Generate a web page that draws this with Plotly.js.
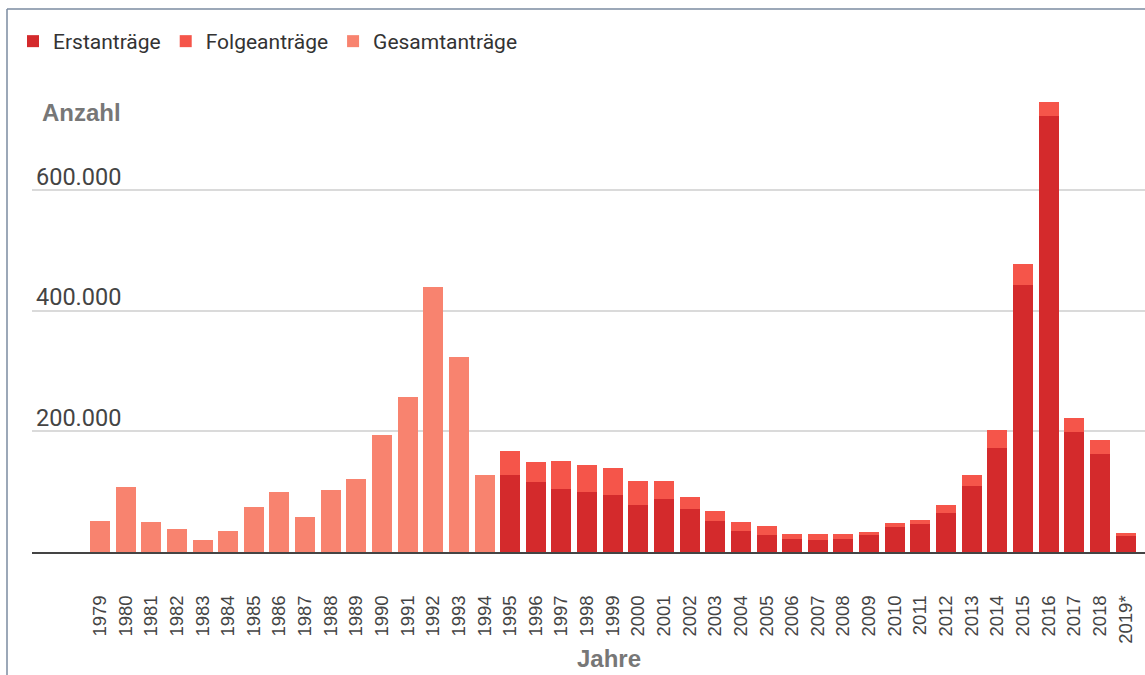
<!DOCTYPE html>
<html>
<head>
<meta charset="utf-8">
<script src="https://cdn.plot.ly/plotly-3.0.1.min.js"></script>
<style>
  html, body { margin: 0; padding: 0; background: #ffffff; }
  #chart { width: 1145px; height: 675px; }
</style>
</head>
<body>
<div id="chart"></div>
<script>
// Categories (years)
const years = ['1979','1980','1981','1982','1983','1984','1985','1986','1987','1988',
  '1989','1990','1991','1992','1993','1994','1995','1996','1997','1998','1999','2000',
  '2001','2002','2003','2004','2005','2006','2007','2008','2009','2010','2011','2012',
  '2013','2014','2015','2016','2017','2018','2019*'];

// Gesamtanträge 1979–1994
const gesamtYears = ['1979','1980','1981','1982','1983','1984','1985','1986','1987','1988',
  '1989','1990','1991','1992','1993','1994'];
const gesamtValues = [51493, 107818, 49391, 37423, 19737, 35278, 73832, 99650, 57379, 103076,
  121318, 193063, 256112, 438191, 322599, 127210];

// Erstanträge / Folgeanträge 1995–2019*
const splitYears = ['1995','1996','1997','1998','1999','2000','2001','2002','2003','2004',
  '2005','2006','2007','2008','2009','2010','2011','2012','2013','2014','2015','2016',
  '2017','2018','2019*'];
const erstValues = [127937, 116367, 104353, 98644, 95113, 78564, 88287, 71127, 50563, 35607,
  28914, 21029, 19164, 22085, 27649, 41332, 45741, 64539, 109580, 173072, 441899, 722370,
  198317, 161931, 26000];
const folgeValues = [39014, 32840, 46765, 45644, 43206, 39084, 30019, 20344, 17285, 14545,
  13994, 9071, 11139, 6933, 5384, 7257, 7606, 13112, 17443, 29762, 34750, 23175,
  24366, 23922, 6000];

const yTicks = [200000, 400000, 600000];

const colErst = '#d42a2c';
const colFolge = '#f5554a';
const colGesamt = '#f8836f';

const traces = [
  { type: 'bar', name: 'Erstanträge', x: splitYears, y: erstValues,
    marker: { color: colErst }, hoverinfo: 'skip' },
  { type: 'bar', name: 'Folgeanträge', x: splitYears, y: folgeValues,
    marker: { color: colFolge }, hoverinfo: 'skip' },
  { type: 'bar', name: 'Gesamtanträge', x: gesamtYears, y: gesamtValues,
    marker: { color: colGesamt }, hoverinfo: 'skip' }
];

const L = 32, T = 69, B = 123, W = 1145, H = 675;
const plotW = W - L, plotH = H - T - B;
const px2x = px => (px - L) / plotW;
const py2y = py => (H - B - py) / plotH;

const layout = {
  width: W, height: H,
  margin: { l: L, r: 0, t: T, b: B, pad: 0 },
  paper_bgcolor: '#ffffff',
  plot_bgcolor: '#ffffff',
  barmode: 'stack',
  bargap: 0.22,
  separators: ',.',
  showlegend: true,
  legend: {
    orientation: 'h',
    x: px2x(13), xanchor: 'left',
    y: py2y(21), yanchor: 'top',
    traceorder: 'normal',
    font: { family: 'Roboto, sans-serif', size: 21, color: '#333333' },
    itemclick: false, itemdoubleclick: false
  },
  xaxis: {
    type: 'category',
    categoryorder: 'array',
    categoryarray: years,
    range: [-2.65, 40.76],
    tickmode: 'array',
    tickvals: years,
    ticktext: years,
    tickangle: -90,
    ticks: 'outside',
    ticklen: 34,
    tickcolor: 'rgba(255,255,255,0)',
    automargin: false,
    tickfont: { family: 'Liberation Sans, Arial, sans-serif', size: 18.5, color: '#444444' },
    showgrid: false,
    showline: true,
    linecolor: '#444444',
    linewidth: 2,
    zeroline: false,
    fixedrange: true
  },
  yaxis: {
    range: [0, 800000],
    side: 'right',
    anchor: 'free',
    position: 0,
    tickvals: yTicks,
    tickformat: ',.0f',
    ticklabelposition: 'outside top',
    ticklabelstandoff: 3,
    ticklabelshift: 3,
    tickfont: { family: 'Roboto, sans-serif', size: 23.5, color: '#444444' },
    showgrid: true,
    gridcolor: '#dadada',
    gridwidth: 2,
    zeroline: false,
    showline: false,
    ticks: '',
    automargin: false,
    fixedrange: true
  },
  annotations: [
    { text: '<b>Anzahl</b>', xref: 'paper', yref: 'paper',
      x: px2x(40), y: py2y(112), xanchor: 'left', yanchor: 'middle',
      showarrow: false,
      font: { family: 'Liberation Sans, Arial, sans-serif', size: 24, color: '#777777' } },
    { text: '<b>Jahre</b>', xref: 'paper', yref: 'paper',
      x: px2x(609), y: py2y(658), xanchor: 'center', yanchor: 'middle',
      showarrow: false,
      font: { family: 'Liberation Sans, Arial, sans-serif', size: 24, color: '#777777' } }
  ],
  shapes: [
    { type: 'line', xref: 'paper', yref: 'paper', layer: 'above',
      x0: px2x(7), x1: px2x(7), y0: py2y(9), y1: py2y(675),
      line: { color: '#7b8ba0', width: 1.5 } },
    { type: 'line', xref: 'paper', yref: 'paper', layer: 'above',
      x0: px2x(7), x1: px2x(1145), y0: py2y(9), y1: py2y(9),
      line: { color: '#7b8ba0', width: 1.5 } }
  ]
};

Plotly.newPlot('chart', traces, layout, { displayModeBar: false, responsive: false });
</script>
</body>
</html>
